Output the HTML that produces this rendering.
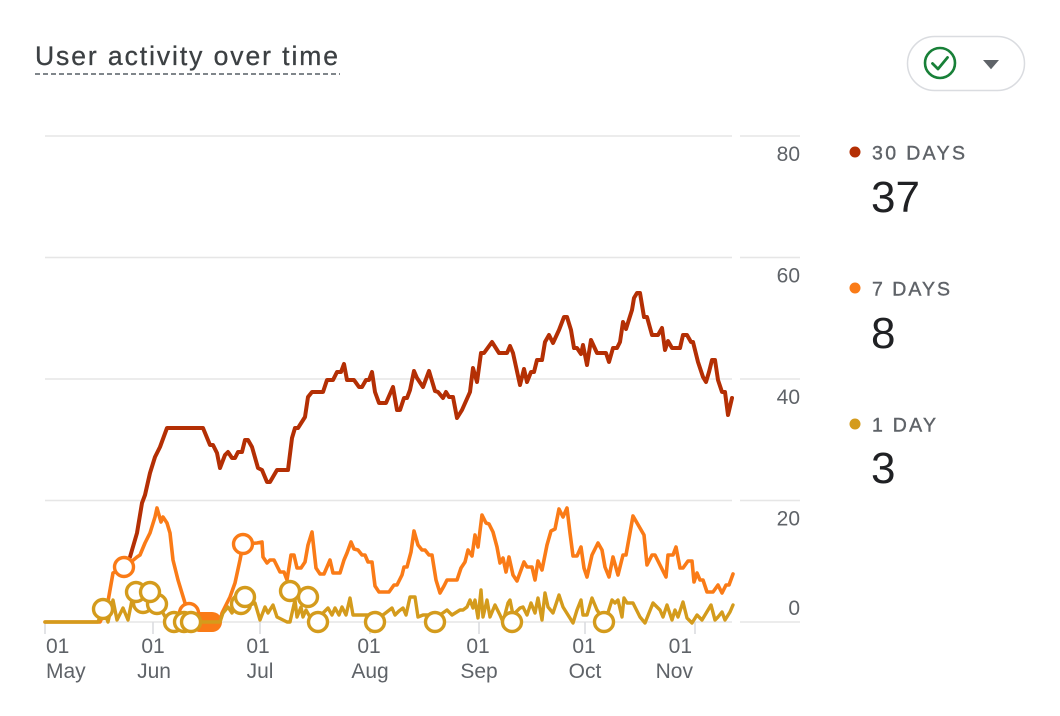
<!DOCTYPE html>
<html>
<head>
<meta charset="utf-8">
<style>
  html, body { margin: 0; padding: 0; background: #ffffff; }
  body { width: 1060px; height: 716px; overflow: hidden; }
  svg { display: block; font-family: "Liberation Sans", Arial, sans-serif; }
</style>
</head>
<body>
<svg width="1060" height="716" viewBox="0 0 1060 716" xmlns="http://www.w3.org/2000/svg">
  <rect x="0" y="0" width="1060" height="716" fill="#ffffff"/>

  <!-- Title -->
  <text x="35" y="65" font-size="26.5" fill="#3c4043" stroke="#3c4043" stroke-width="0.3" textLength="303" lengthAdjust="spacing">User activity over time</text>
  <line x1="35" y1="74" x2="340" y2="74" stroke="#80868b" stroke-width="2" stroke-dasharray="5 3"/>

  <!-- Button -->
  <rect x="907.5" y="36.5" width="117" height="54" rx="27" ry="27" fill="#ffffff" stroke="#dadce0" stroke-width="1.5"/>
  <circle cx="940" cy="63" r="15" fill="none" stroke="#188038" stroke-width="2.6"/>
  <polyline points="932.5,63.5 938,69 947.5,57.5" fill="none" stroke="#188038" stroke-width="2.8" stroke-linecap="round" stroke-linejoin="round"/>
  <polygon points="983,60 999,60 991,69.3" fill="#5f6368"/>

  <!-- Gridlines -->
  <g stroke="#e6e6e6" stroke-width="1.6">
    <line x1="45" y1="136" x2="732" y2="136"/><line x1="740" y1="136" x2="800" y2="136"/>
    <line x1="45" y1="257.5" x2="732" y2="257.5"/><line x1="740" y1="257.5" x2="800" y2="257.5"/>
    <line x1="45" y1="379" x2="732" y2="379"/><line x1="740" y1="379" x2="800" y2="379"/>
    <line x1="45" y1="500.5" x2="732" y2="500.5"/><line x1="740" y1="500.5" x2="800" y2="500.5"/>
    <line x1="45" y1="622" x2="732" y2="622"/><line x1="740" y1="622" x2="800" y2="622"/>
  </g>
  <!-- Ticks -->
  <g stroke="#dadce0" stroke-width="1.6">
    <line x1="45" y1="622" x2="45" y2="634"/>
    <line x1="153" y1="622" x2="153" y2="634"/>
    <line x1="260" y1="622" x2="260" y2="634"/>
    <line x1="370" y1="622" x2="370" y2="634"/>
    <line x1="479" y1="622" x2="479" y2="634"/>
    <line x1="585" y1="622" x2="585" y2="634"/>
    <line x1="695" y1="622" x2="695" y2="634"/>
  </g>

  <!-- Y labels -->
  <g font-size="21" fill="#5f6368" text-anchor="end">
    <text x="800" y="161">80</text>
    <text x="800" y="282.5">60</text>
    <text x="800" y="404">40</text>
    <text x="800" y="525.5">20</text>
    <text x="800" y="615">0</text>
  </g>

  <!-- X labels -->
  <g font-size="21" fill="#5f6368">
    <text x="46" y="653">01</text><text x="46" y="678">May</text>
    <g text-anchor="middle">
      <text x="153" y="653">01</text><text x="154" y="678">Jun</text>
      <text x="258" y="653">01</text><text x="260" y="678">Jul</text>
      <text x="369" y="653">01</text><text x="370" y="678">Aug</text>
      <text x="478" y="653">01</text><text x="479" y="678">Sep</text>
      <text x="584" y="653">01</text><text x="585" y="678">Oct</text>
    </g>
    <g text-anchor="end">
      <text x="692" y="653">01</text><text x="693" y="678">Nov</text>
    </g>
  </g>

  <!-- 30 days -->
  <polyline fill="none" stroke="#b42f04" stroke-width="4" stroke-linejoin="round" stroke-linecap="round"
    points="130,557 137,533 142,503 145,495 150,473 155,457 160,447 167,428 203,428 210,445 213,445 217,453 220,468 225,455 228,452 232,458 235,458 238,452 242,452 245,440 248,440 252,447 258,468 262,470 267,482 270,482 277,470 288,470 292,438 295,428 298,428 305,417 308,397 312,392 323,392 327,380 333,380 337,372 341,372 344,364 347,380 354,380 359,387 362,387 366,380 369,380 372,372 375,392 379,403 386,403 393,387 397,410 400,410 404,398 407,398 410,390 414,371 417,378 423,387 429,371 435,391 438,392 443,398 446,392 449,397 453,397 457,418 462,410 470,392 473,368 477,382 481,353 484,353 492,342 499,353 507,353 510,346 513,353 520,385 524,369 527,382 531,372 534,372 537,360 542,360 545,342 549,335 553,343 559,330 564,317 567,317 571,330 574,348 577,348 581,354 583,345 587,365 591,340 597,353 606,353 609,362 613,348 617,348 620,342 623,322 626,329 632,310 634,298 637,293 640,293 644,317 647,317 652,335 658,335 662,328 665,350 668,341 672,348 680,348 683,335 687,335 691,342 693,342 698,362 703,377 706,382 709,372 712,360 715,360 718,380 722,392 725,392 728,415 732,398"/>

  <!-- 7 days -->
  <polyline fill="none" stroke="#fa7b17" stroke-width="3.6" stroke-linejoin="round" stroke-linecap="round"
    points="45,622 100,622 107,607 113,573 125,567 137,557 140,555 145,543 150,533 155,517 157,508 161,522 163,517 167,523 170,533 173,560 178,580 185,603 188,613 192,622 220,622 222,613 230,597 235,583 240,560 243,544 257,543 262,542 263,557 267,563 270,560 274,560 280,572 284,572 287,580 291,555 294,555 297,568 301,568 305,562 308,545 312,532 316,568 320,574 324,574 330,560 333,573 340,573 344,560 347,553 351,542 354,549 358,550 362,555 365,555 368,562 372,562 375,586 379,592 389,592 394,585 397,585 402,575 404,567 407,567 411,552 414,531 418,545 422,550 425,550 429,555 432,555 436,580 440,593 444,586 447,580 457,580 461,568 465,562 468,550 472,556 475,535 478,547 482,515 486,523 489,524 493,532 497,547 500,563 503,558 506,572 509,557 513,575 517,581 524,562 527,567 532,567 535,580 538,561 542,570 547,545 551,531 555,529 559,509 563,517 567,508 570,533 573,556 577,556 581,547 584,568 587,577 592,555 598,543 602,550 605,567 609,577 613,557 618,575 623,555 626,555 633,516 644,535 647,565 652,555 655,555 666,577 668,555 673,555 676,547 680,568 683,568 688,561 692,561 694,582 697,573 700,580 703,580 707,592 713,592 718,585 722,593 726,585 729,585 733,574"/>

  <!-- orange markers -->
  <g fill="#ffffff" stroke="#fa7b17" stroke-width="3.4">
    <circle cx="124" cy="567" r="9.5"/>
    <circle cx="243" cy="544" r="9.5"/>
    <circle cx="189" cy="613" r="9.5"/>
  </g>
  <rect x="190" y="612" width="32" height="20" rx="10" ry="10" fill="#fa7b17"/>

  <!-- 1 day -->
  <polyline fill="none" stroke="#d49b1c" stroke-width="3.4" stroke-linejoin="round" stroke-linecap="round"
    points="45,622 98,622 103,609 108,622 113,600 117,620 123,608 128,620 132,600 137,592 142,602 150,592 158,603 163,613 168,622 220,622 223,613 228,607 232,613 235,607 240,602 245,598 250,605 255,603 260,620 265,607 268,613 273,605 277,617 287,622 290,622 295,600 297,617 301,607 303,617 306,610 310,617 318,620 323,613 328,608 332,615 335,608 339,615 342,607 346,615 350,598 353,615 370,615 375,622 380,615 383,615 392,608 395,615 399,611 403,608 406,615 410,597 415,597 418,617 423,615 430,615 435,622 440,615 447,610 452,615 460,610 463,610 467,607 470,600 473,608 475,600 478,618 481,590 483,617 487,600 490,617 495,605 500,615 503,622 508,603 510,600 513,615 520,608 523,607 527,615 531,603 535,613 538,598 542,620 545,593 548,607 553,613 559,595 563,607 568,615 573,623 577,610 581,600 583,615 587,615 592,598 597,610 605,622 612,600 615,603 618,600 622,617 624,598 627,603 633,603 640,617 645,623 653,603 660,610 663,617 667,605 672,620 675,610 678,617 683,602 687,618 692,623 697,615 702,620 708,610 711,605 715,620 718,617 722,612 725,620 730,612 733,605"/>

  <!-- yellow markers -->
  <g fill="#ffffff" stroke="#d49b1c" stroke-width="3.4">
    <circle cx="103" cy="609" r="9.5"/>
    <circle cx="143" cy="603" r="9.5"/>
    <circle cx="157" cy="604" r="9.5"/>
    <circle cx="136" cy="592" r="9.5"/>
    <circle cx="150" cy="592" r="9.5"/>
    <circle cx="174" cy="622" r="9.5"/>
    <circle cx="184" cy="622" r="9.5"/>
    <circle cx="191" cy="622" r="9.5"/>
    <circle cx="241" cy="604" r="9.5"/>
    <circle cx="245" cy="597" r="9.5"/>
    <circle cx="290" cy="591" r="9.5"/>
    <circle cx="308" cy="597" r="9.5"/>
    <circle cx="318" cy="622" r="9.5"/>
    <circle cx="375" cy="622" r="9.5"/>
    <circle cx="435" cy="622" r="9.5"/>
    <circle cx="512" cy="622" r="9.5"/>
    <circle cx="604" cy="622" r="9.5"/>
  </g>

  <!-- Legend -->
  <circle cx="855" cy="152" r="5.5" fill="#b42f04"/>
  <text x="872" y="159.5" font-size="19.5" fill="#5f6368" stroke="#5f6368" stroke-width="0.4" textLength="93" lengthAdjust="spacing">30 DAYS</text>
  <text x="871" y="212" font-size="44" fill="#202124">37</text>

  <circle cx="855" cy="288" r="5.5" fill="#fa7b17"/>
  <text x="872" y="295.5" font-size="19.5" fill="#5f6368" stroke="#5f6368" stroke-width="0.4" textLength="78" lengthAdjust="spacing">7 DAYS</text>
  <text x="871" y="348" font-size="44" fill="#202124">8</text>

  <circle cx="855" cy="424" r="5.5" fill="#d49b1c"/>
  <text x="872" y="431.5" font-size="19.5" fill="#5f6368" stroke="#5f6368" stroke-width="0.4" textLength="64" lengthAdjust="spacing">1 DAY</text>
  <text x="871" y="483" font-size="44" fill="#202124">3</text>
</svg>
</body>
</html>
